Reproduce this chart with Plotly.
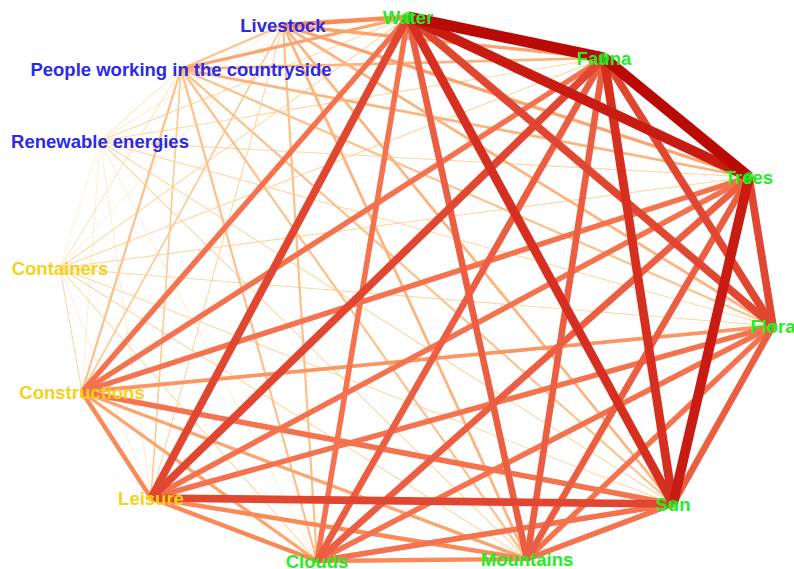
import numpy as np
import plotly.graph_objects as go
import plotly.colors as pc

# ---- data ----
nodes = ["Water", "Fauna", "Trees", "Flora", "Sun", "Mountains", "Clouds",
         "Leisure", "Constructions", "Containers", "Renewable energies",
         "People working in the countryside", "Livestock"]
groups = ["nature", "nature", "nature", "nature", "nature", "nature", "nature",
          "use", "use", "use", "social", "social", "social"]
# layout coordinates of the network
node_x = [408, 604, 749, 773, 673, 527, 317, 151, 82, 60, 100, 181, 283]
node_y = [17, 58, 177, 326, 504, 559, 561, 498, 392, 268, 141, 69, 25]

edge_src = []
edge_dst = []
edge_w = []
_pairs = {
    ("Water", "Fauna"): 10, ("Water", "Trees"): 9, ("Water", "Flora"): 7, ("Water", "Sun"): 8,
    ("Water", "Mountains"): 6, ("Water", "Clouds"): 5, ("Water", "Leisure"): 7, ("Water", "Constructions"): 5,
    ("Water", "Containers"): 1, ("Water", "Renewable energies"): 1,
    ("Water", "People working in the countryside"): 3, ("Water", "Livestock"): 4,
    ("Fauna", "Trees"): 10, ("Fauna", "Flora"): 7, ("Fauna", "Sun"): 8, ("Fauna", "Mountains"): 6,
    ("Fauna", "Clouds"): 6, ("Fauna", "Leisure"): 7, ("Fauna", "Constructions"): 5, ("Fauna", "Containers"): 1,
    ("Fauna", "Renewable energies"): 1, ("Fauna", "People working in the countryside"): 2.5,
    ("Fauna", "Livestock"): 3,
    ("Trees", "Flora"): 7, ("Trees", "Sun"): 9, ("Trees", "Mountains"): 6, ("Trees", "Clouds"): 6,
    ("Trees", "Leisure"): 5, ("Trees", "Constructions"): 5, ("Trees", "Containers"): 1,
    ("Trees", "Renewable energies"): 1, ("Trees", "People working in the countryside"): 2.5,
    ("Trees", "Livestock"): 3,
    ("Flora", "Sun"): 6, ("Flora", "Mountains"): 5, ("Flora", "Clouds"): 5, ("Flora", "Leisure"): 5,
    ("Flora", "Constructions"): 3.5, ("Flora", "Containers"): 1, ("Flora", "Renewable energies"): 1,
    ("Flora", "People working in the countryside"): 2, ("Flora", "Livestock"): 2.5,
    ("Sun", "Mountains"): 5, ("Sun", "Clouds"): 5, ("Sun", "Leisure"): 7, ("Sun", "Constructions"): 5,
    ("Sun", "Containers"): 1, ("Sun", "Renewable energies"): 1,
    ("Sun", "People working in the countryside"): 2, ("Sun", "Livestock"): 2.5,
    ("Mountains", "Clouds"): 4, ("Mountains", "Leisure"): 4, ("Mountains", "Constructions"): 3,
    ("Mountains", "Containers"): 1, ("Mountains", "Renewable energies"): 1,
    ("Mountains", "People working in the countryside"): 2, ("Mountains", "Livestock"): 2.5,
    ("Clouds", "Leisure"): 4, ("Clouds", "Constructions"): 3, ("Clouds", "Containers"): 1,
    ("Clouds", "Renewable energies"): 0.5, ("Clouds", "People working in the countryside"): 2,
    ("Clouds", "Livestock"): 2,
    ("Leisure", "Constructions"): 4, ("Leisure", "Containers"): 0.5, ("Leisure", "Renewable energies"): 0.5,
    ("Leisure", "People working in the countryside"): 1.5, ("Leisure", "Livestock"): 1,
    ("Constructions", "Containers"): 1, ("Constructions", "Renewable energies"): 0.5,
    ("Constructions", "People working in the countryside"): 2, ("Constructions", "Livestock"): 1.5,
    ("Containers", "Renewable energies"): 0.3, ("Containers", "People working in the countryside"): 0.8,
    ("Containers", "Livestock"): 0.5,
    ("Renewable energies", "People working in the countryside"): 0.8, ("Renewable energies", "Livestock"): 0.6,
    ("People working in the countryside", "Livestock"): 2,
}
for (a, b), w in _pairs.items():
    edge_src.append(a)
    edge_dst.append(b)
    edge_w.append(w)

# ---- styles ----
group_color = {"nature": "#22ee22", "use": "#f7d117", "social": "#2a2ae6"}
idx = {n: i for i, n in enumerate(nodes)}

W, H = 794, 569

fig = go.Figure()

order = np.argsort(edge_w, kind="stable")
wmax = max(edge_w)
for k in order:
    a, b, w = edge_src[k], edge_dst[k], edge_w[k]
    t = 0.85 * (w / wmax) ** 0.55
    col = pc.sample_colorscale("OrRd", [t])[0]
    fig.add_trace(go.Scatter(
        x=[node_x[idx[a]], node_x[idx[b]]],
        y=[node_y[idx[a]], node_y[idx[b]]],
        mode="lines",
        line=dict(color=col, width=max(0.7, 1.1 * w)),
        hoverinfo="skip", showlegend=False, cliponaxis=False))

# node strength -> dot size
strength = [0.0] * len(nodes)
for a, b, w in zip(edge_src, edge_dst, edge_w):
    strength[idx[a]] += w
    strength[idx[b]] += w
dot_size = [float(np.clip((s - 33) * 0.33, 0, 13)) for s in strength]

fig.add_trace(go.Scatter(
    x=node_x, y=[v + 2 for v in node_y], mode="text", text=nodes,
    textposition="middle center",
    textfont=dict(family="Liberation Sans, Arial, sans-serif", size=18.5,
                  color=[group_color[g] for g in groups], weight="bold"),
    hoverinfo="skip", showlegend=False, cliponaxis=False))

fig.add_trace(go.Scatter(
    x=node_x, y=node_y, mode="markers",
    marker=dict(size=dot_size, color=[group_color[g] for g in groups], line=dict(width=0)),
    hoverinfo="text", text=nodes, showlegend=False, cliponaxis=False))

fig.update_layout(
    width=W, height=H,
    margin=dict(l=0, r=0, t=0, b=0),
    paper_bgcolor="white", plot_bgcolor="white",
    xaxis=dict(range=[0, W], visible=False, fixedrange=True),
    yaxis=dict(range=[H, 0], visible=False, fixedrange=True),
)

fig.write_html(
    "out.html",
    config={"displayModeBar": False},
    post_script="document.body.style.margin='0';document.body.style.overflow='hidden';",
)
